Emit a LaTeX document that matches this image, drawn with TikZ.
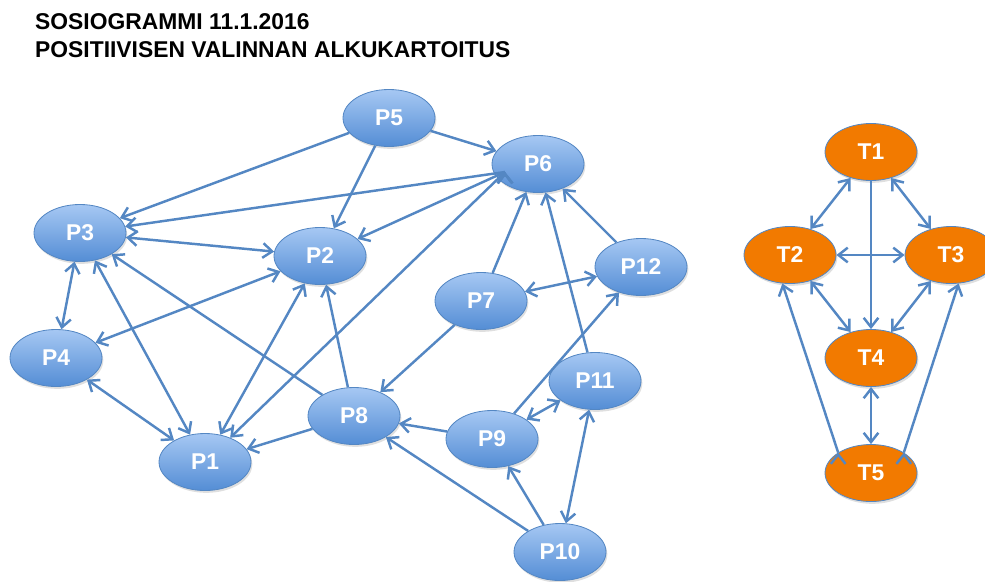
\documentclass[tikz,border=0pt]{standalone}
\usepackage{fontspec}
\setmainfont{Liberation Sans}
\usetikzlibrary{arrows.meta,shapes.geometric,shadows}

\definecolor{linkblue}{RGB}{84,135,195}
\definecolor{pupiltop}{RGB}{166,200,243}
\definecolor{pupilbottom}{RGB}{84,141,213}
\definecolor{teacherorange}{RGB}{242,122,0}

\begin{document}
\begin{tikzpicture}[x=0.3mm, y=-0.3mm,
        person/.style={ellipse, draw=linkblue, line width=0.7pt, minimum width=27.6mm, minimum height=17.1mm,
            inner sep=0pt, text=white, font=\fontsize{19.5}{23}\selectfont\bfseries,
            drop shadow={opacity=0.25, shadow xshift=0.4mm, shadow yshift=-0.7mm}},
        pupil/.style={person, top color=pupiltop, bottom color=pupilbottom},
        teacher/.style={person, fill=teacherorange},
        link/.style={line width=2.1pt, draw=linkblue, >={Straight Barb[length=2.8mm, width=4.4mm]}}]
    \useasboundingbox (0,0) rectangle (985,581);

    \node[anchor=north west, inner sep=0pt, align=left, font=\fontsize{19.5}{24}\selectfont\bfseries] (title) at (35,13)
        {SOSIOGRAMMI 11.1.2016\\POSITIIVISEN VALINNAN ALKUKARTOITUS};

    % pupils
    \node[pupil] (p1) at (205,462) {P1};
    \node[pupil] (p2) at (320,256) {P2};
    \node[pupil] (p3) at (80,233) {P3};
    \node[pupil] (p4) at (56,358) {P4};
    \node[pupil] (p5) at (389,118) {P5};
    \node[pupil] (p6) at (538,164) {P6};
    \node[pupil] (p7) at (481,301) {P7};
    \node[pupil] (p8) at (354,416) {P8};
    \node[pupil] (p9) at (492,439) {P9};
    \node[pupil] (p10) at (560,552) {P10};
    \node[pupil] (p11) at (595,381) {P11};
    \node[pupil] (p12) at (641,267) {P12};
    \coordinate (p6out) at (505,172);

    % teachers
    \node[teacher] (t1) at (871,152) {T1};
    \node[teacher] (t2) at (790,255) {T2};
    \node[teacher] (t3) at (951,255) {T3};
    \node[teacher] (t4) at (871,358) {T4};
    \node[teacher] (t5) at (871,473) {T5};

    \path[link, ->] (p5) edge (p3);
    \path[link, ->] (p5) edge (p6);
    \path[link, ->] (p5) edge (p2);
    \path[link, ->] (p6out) edge (p3);
    \path[link, ->] (p6out) edge (p2);
    \path[link, ->] (p6out) edge (p1);
    \path[link, <->] (p3) edge (p2);
    \path[link, <->] (p3) edge (p4);
    \path[link, <->] (p3) edge (p1);
    \path[link, ->] (p8) edge (p3);
    \path[link, <->] (p2) edge (p4);
    \path[link, <->] (p1) edge (p2);
    \path[link, ->] (p8) edge (p2);
    \path[link, <->] (p4) edge (p1);
    \path[link, ->] (p8) edge (p1);
    \path[link, ->] (p7) edge (p8);
    \path[link, ->] (p9) edge (p8);
    \path[link, ->] (p10) edge (p8);
    \path[link, ->] (p7) edge (p6);
    \path[link, ->] (p11) edge (p6);
    \path[link, ->] (p12) edge (p6);
    \path[link, <->] (p7) edge (p12);
    \path[link, ->] (p9) edge (p12);
    \path[link, <->] (p9) edge (p11);
    \path[link, <->] (p10) edge (p11);
    \path[link, ->] (p10) edge (p9);

    \path[link, <->] (t1) edge (t2);
    \path[link, <->] (t1) edge (t3);
    \path[link, ->] (t1) edge (t4);
    \path[link, <->] (t2) edge (t3);
    \path[link, <->] (t2) edge (t4);
    \path[link, <->] (t3) edge (t4);
    \path[link, <->] (t4) edge (t5);
    \path[link, ->] (t5.north west) edge (t2.255);
    \path[link, ->] (t5.north east) edge (t3.285);
\end{tikzpicture}
\end{document}
